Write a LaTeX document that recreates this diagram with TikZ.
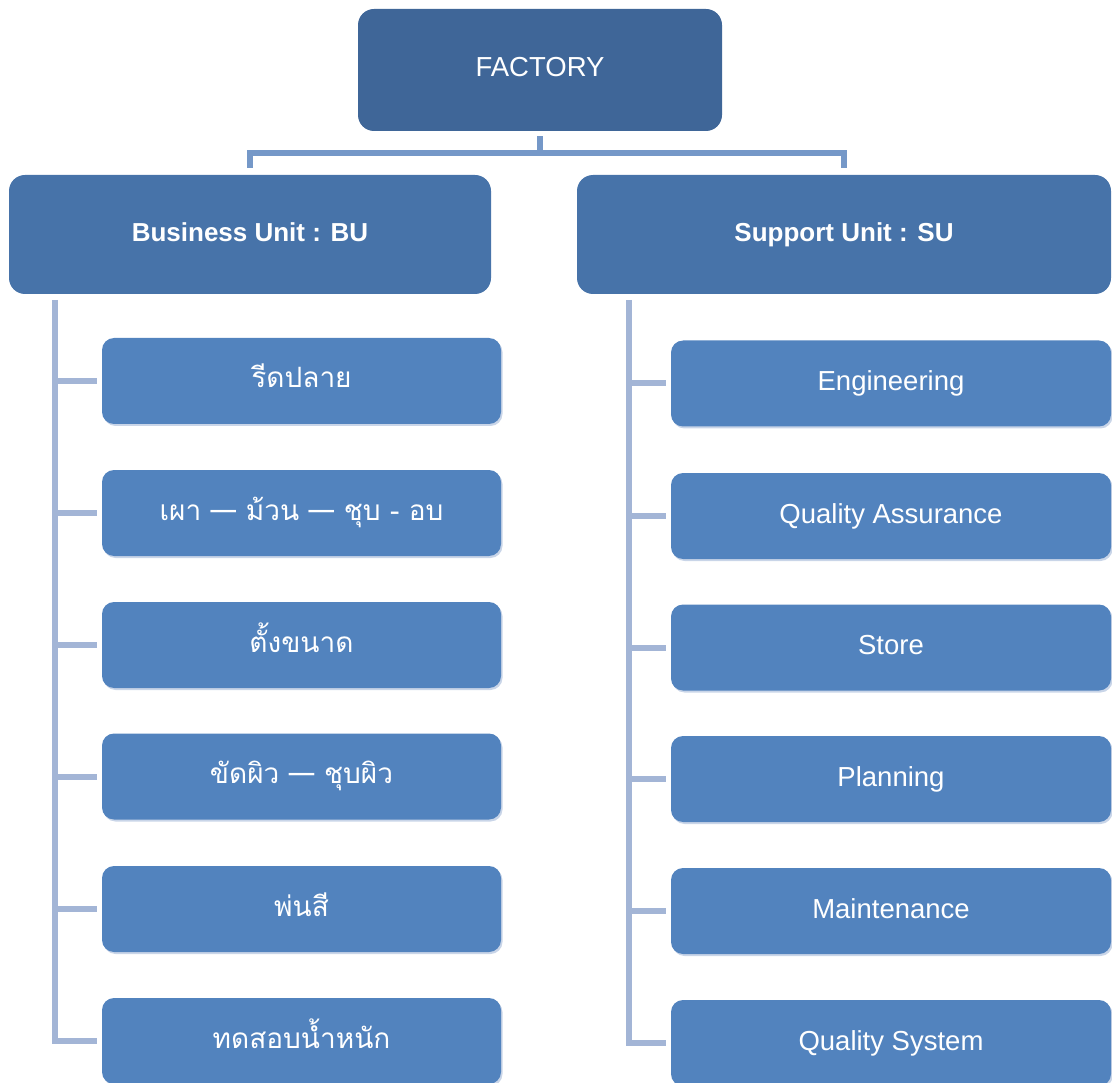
\documentclass[tikz,border=0pt]{standalone}
\usepackage{fontspec}
\setmainfont{Liberation Sans}
\newfontfamily\thaifont[Script=Thai]{Loma}
\begin{document}
\definecolor{topclr}{HTML}{3F6698}
\definecolor{unitclr}{HTML}{4773A9}
\definecolor{itemclr}{HTML}{5283BE}
\definecolor{joinclr}{HTML}{7598C8}
\definecolor{railclr}{HTML}{A3B5D6}
\definecolor{shadeclr}{HTML}{C9D5E8}
\begin{tikzpicture}[x=1pt,y=-1pt,
  topbox/.style={rectangle,rounded corners=16pt,fill=topclr,text=white,
    minimum width=364pt,minimum height=122pt,inner sep=0pt,
    text height=20pt,text depth=6pt,
    font=\fontsize{27.5}{30}\selectfont},
  unitbox/.style={rectangle,rounded corners=16pt,fill=unitclr,text=white,
    minimum height=119pt,inner sep=0pt,text height=20pt,text depth=6pt,
    font=\fontsize{26}{30}\selectfont\bfseries},
  itembox/.style={rectangle,rounded corners=12pt,fill=itemclr,text=white,
    minimum height=86pt,inner sep=0pt,text height=20pt,text depth=6pt,
    font=\fontsize{27.5}{30}\selectfont,
    preaction={fill=shadeclr,transform canvas={xshift=1.5pt,yshift=-2pt}}},
  buitem/.style={itembox,minimum width=399pt},
  suitem/.style={itembox,minimum width=440pt},
  thai/.style={font=\thaifont\fontsize{28}{30}\selectfont},
  joinline/.style={draw=joinclr,line width=6pt},
  railline/.style={draw=railclr,line width=6pt}]
\useasboundingbox (0,0) rectangle (1112,1083);

% top level
\node[topbox] (fac) at (540,70) {FACTORY};

% units
\node[unitbox,minimum width=482pt] (bu) at (250,234.5) {Business Unit : BU};
\node[unitbox,minimum width=534pt] (su) at (844,234.5) {Support Unit : SU};

% connector from factory to units
\coordinate (jn) at (540,153);
\draw[joinline] ([yshift=-5pt]fac.south) -- (jn);
\draw[joinline] ([yshift=7pt]bu.north) |- (jn) -| ([yshift=7pt]su.north);

% business unit items
\node[buitem,thai] (b1) at (301.5,381) {รีดปลาย};
\node[buitem,thai] (b2) at (301.5,513) {เผา — ม้วน — ชุบ - อบ};
\node[buitem,thai] (b3) at (301.5,645) {ตั้งขนาด};
\node[buitem,thai] (b4) at (301.5,776.5) {ขัดผิว — ชุบผิว};
\node[buitem,thai] (b5) at (301.5,909) {พ่นสี};
\node[buitem,thai] (b6) at (301.5,1041) {ทดสอบน้ำหนัก};

% support unit items
\node[suitem] (s1) at (891,383.5) {Engineering};
\node[suitem] (s2) at (891,516) {Quality Assurance};
\node[suitem] (s3) at (891,647.5) {Store};
\node[suitem] (s4) at (891,779) {Planning};
\node[suitem] (s5) at (891,911) {Maintenance};
\node[suitem] (s6) at (891,1043) {Quality System};

% business unit rail
\coordinate (railB) at (55,300);
\draw[railline] (railB) |- ([xshift=-5pt]b6.west);
\foreach \n in {b1,b2,b3,b4,b5}
  \draw[railline] (railB |- \n.west) -- ([xshift=-5pt]\n.west);

% support unit rail
\coordinate (railS) at (629,300);
\draw[railline] (railS) |- ([xshift=-5pt]s6.west);
\foreach \n in {s1,s2,s3,s4,s5}
  \draw[railline] (railS |- \n.west) -- ([xshift=-5pt]\n.west);
\end{tikzpicture}
\end{document}
